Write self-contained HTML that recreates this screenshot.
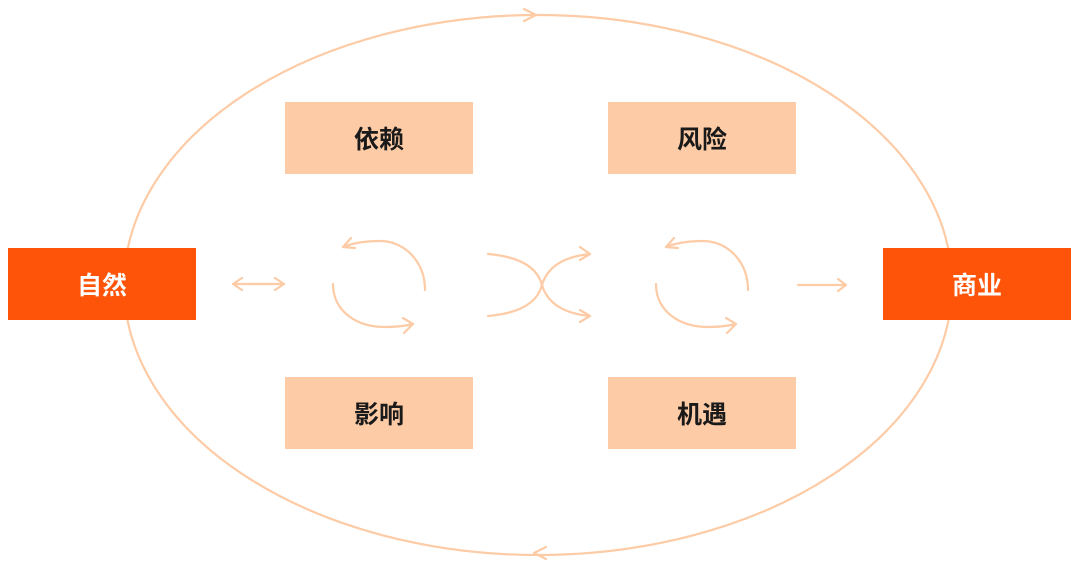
<!DOCTYPE html>
<html><head><meta charset="utf-8"><style>
body{margin:0;width:1080px;height:569px;background:#fff;overflow:hidden;font-family:"Liberation Sans","Noto Sans CJK SC",sans-serif}
.b{position:absolute;display:flex;align-items:center;justify-content:center;font-size:25px;font-weight:bold}
.d{background:#fe5409;color:#fff;width:188px;height:72px;top:248px}
.l{background:#fdcba5;color:#1a1a1a;width:188px;height:72px}
</style></head><body>
<svg width="1080" height="569" style="position:absolute;left:0;top:0" fill="none" stroke="#fdcba5" stroke-width="2.2" stroke-linecap="round" stroke-linejoin="round">
<ellipse cx="538" cy="285" rx="414" ry="270"/>
<path d="M524 9 L536 15 L524 21"/>
<path d="M546 547 L534 553 L546 559"/>
<path d="M234 284 H283 M242 278 L233 284 L242 290 M275 278 L284 284 L275 290"/>
<g id="c">
<path d="M425 290 C425 262 405 241 380 241 C366 241 353 243 343 247"/>
<path d="M351 238 L343 247 L355 248"/>
<path d="M333 284 C333 310 355 327 385 327 C395 327 405 326 413 324"/>
<path d="M403 318 L413 324 L404 333"/>
</g>
<use href="#c" transform="translate(323,0)"/>
<path d="M488 254 Q535 258 542 285 Q535 312 488 316"/>
<path d="M542 285 Q550 258 590 254 M542 285 Q550 312 590 316"/>
<path d="M580 247 L590 254 L580 260 M580 310 L590 316 L580 322"/>
<path d="M798 285 H846 M838 279 L846 285 L838 291"/>
</svg>
<div class="b d" style="left:8px">自然</div>
<div class="b d" style="left:883px">商业</div>
<div class="b l" style="left:285px;top:102px">依赖</div>
<div class="b l" style="left:608px;top:102px">风险</div>
<div class="b l" style="left:285px;top:377px">影响</div>
<div class="b l" style="left:608px;top:377px">机遇</div>
</body></html>
